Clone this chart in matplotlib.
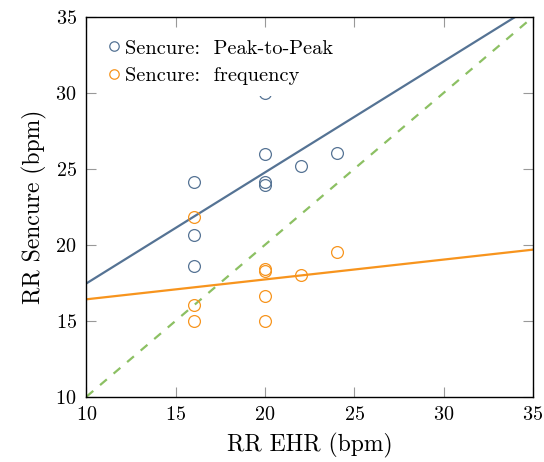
import numpy as np
import matplotlib
matplotlib.use("Agg")
import matplotlib.pyplot as plt

plt.rcParams['font.family'] = 'serif'
plt.rcParams['font.serif'] = ['cmr10']
plt.rcParams['mathtext.fontset'] = 'cm'
plt.rcParams['axes.formatter.use_mathtext'] = True

# reference (EHR) values
ehr = [16, 16, 16, 20, 20, 20, 20, 22, 24]
# Sencure peak-to-peak estimates
p2p = [24.1, 20.65, 18.6, 30.0, 25.95, 24.1, 23.9, 25.15, 26.05]
# Sencure frequency estimates
freq = [21.8, 16.05, 15.0, 18.4, 18.3, 16.6, 15.0, 18.0, 19.5]

blue = '#557394'
orange = '#F7941D'
green = '#8CC063'

fig = plt.figure(figsize=(5.44, 4.62), dpi=100)
ax = fig.add_axes([0.159, 0.1415, 0.8208, 0.822])

xs = np.array([10, 35])

# linear fits
b1 = np.polyfit(ehr, p2p, 1)
b2 = np.polyfit(ehr, freq, 1)
ax.plot(xs, np.polyval(b1, xs), color=blue, lw=1.6, zorder=2)
ax.plot(xs, np.polyval(b2, xs), color=orange, lw=1.6, zorder=2)
ax.plot(xs, xs, color=green, lw=1.6, ls=(0, (4, 4)), zorder=2)

ax.plot(ehr, p2p, 'o', mfc='none', mec=blue, ms=8.5, mew=0.9,
        label='Sencure:  Peak-to-Peak', zorder=3)
ax.plot(ehr, freq, 'o', mfc='none', mec=orange, ms=8.5, mew=0.9,
        label='Sencure:  frequency', zorder=3)

ax.set_xlim(10, 35)
ax.set_ylim(10, 35)
ax.set_xticks([10, 15, 20, 25, 30, 35])
ax.set_yticks([10, 15, 20, 25, 30, 35])
ax.tick_params(direction='in', length=7, color='#999999', labelsize=14.5,
               top=True, right=True, pad=7)
for s in ax.spines.values():
    s.set_linewidth(1.0)

ax.set_xlabel('RR EHR (bpm)', fontsize=17, labelpad=6)
ax.set_ylabel('RR Sencure (bpm)', fontsize=17, labelpad=6)

leg = ax.legend(loc='upper left', fontsize=14.7, handlelength=0.5,
                handletextpad=0.3, borderaxespad=0.55, frameon=True,
                fancybox=False, edgecolor='none', framealpha=1,
                labelspacing=0.45, markerscale=0.8, borderpad=0.55)
leg.set_zorder(5)

fig.savefig('out.png', dpi=100)
